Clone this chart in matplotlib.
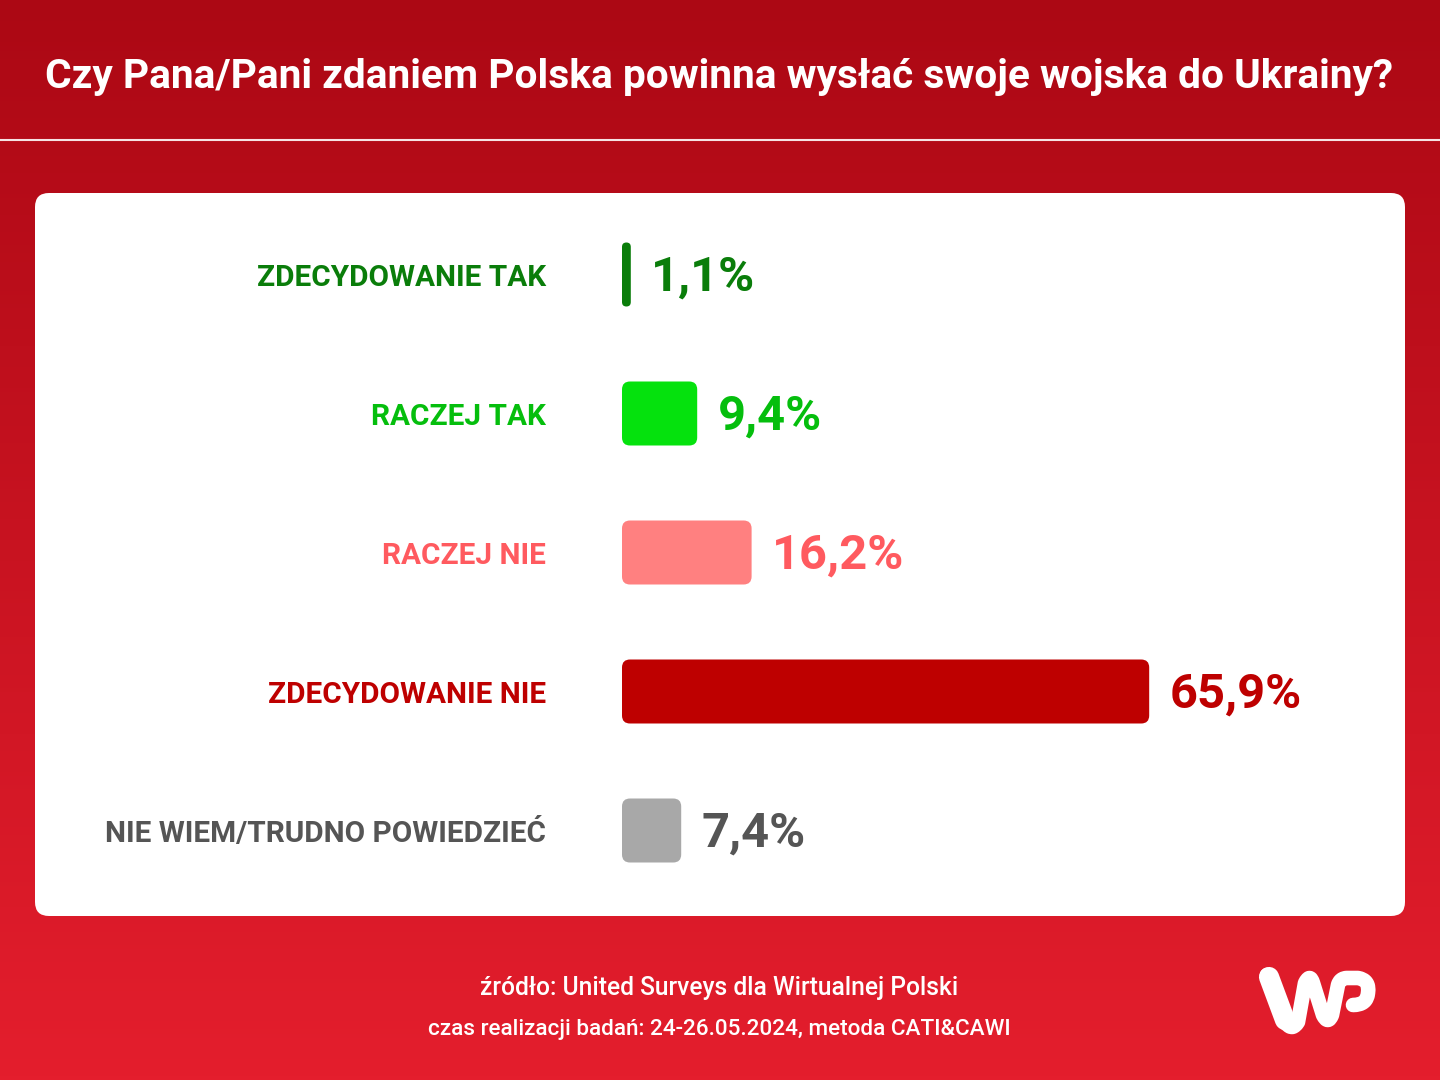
import numpy as np
import matplotlib

matplotlib.use("Agg")
import matplotlib.pyplot as plt
from matplotlib.patches import FancyBboxPatch, PathPatch
from matplotlib.path import Path

plt.rcParams["font.family"] = ["Roboto", "DejaVu Sans"]

W, H = 1440, 1080

title = "Czy Pana/Pani zdaniem Polska powinna wysłać swoje wojska do Ukrainy?"
categories = [
    "ZDECYDOWANIE TAK",
    "RACZEJ TAK",
    "RACZEJ NIE",
    "ZDECYDOWANIE NIE",
    "NIE WIEM/TRUDNO POWIEDZIEĆ",
]
values = [1.1, 9.4, 16.2, 65.9, 7.4]
value_labels = ["1,1%", "9,4%", "16,2%", "65,9%", "7,4%"]
bar_colors = ["#0A7D0A", "#05E20D", "#FF8080", "#BE0000", "#A8A8A8"]
text_colors = ["#0A7D0A", "#05BE0D", "#FF5A5F", "#BE0000", "#555555"]
source_lines = [
    "źródło: United Surveys dla Wirtualnej Polski",
    "czas realizacji badań: 24-26.05.2024, metoda CATI&CAWI",
]

fig = plt.figure(figsize=(W / 100, H / 100), dpi=100)

# page furniture in pixel coordinates
bg = fig.add_axes([0, 0, 1, 1])
bg.set_xlim(0, W)
bg.set_ylim(H, 0)
bg.axis("off")
gradient = np.linspace(0, 1, 256).reshape(-1, 1, 1)
top = np.array([172, 8, 20]) / 255
bottom = np.array([228, 30, 45]) / 255
bg.imshow(top + (bottom - top) * gradient, extent=[0, W, H, 0], aspect="auto", zorder=0)
bg.set_xlim(0, W)
bg.set_ylim(H, 0)

bg.plot([0, W], [139.5, 139.5], color="#F6E3E4", lw=1.5, solid_capstyle="butt", zorder=1)
bg.text(719, 73.5, title, color="white", fontsize=29.25, fontweight="bold",
        ha="center", va="center_baseline", zorder=2)
bg.add_patch(FancyBboxPatch((35, 193), 1370, 723, boxstyle="round,pad=0,rounding_size=14",
                            fc="white", ec="none", zorder=1))
bg.text(719, 986, source_lines[0], color="white", fontsize=17.7, fontweight="medium",
        ha="center", va="center_baseline", zorder=2)
bg.text(719, 1026.5, source_lines[1], color="white", fontsize=16.2, fontweight="medium",
        ha="center", va="center_baseline", zorder=2)

# logo, drawn as one thick stroke plus a heavier left arm
logo_verts = [
    (1267, 975), (1285, 1022), (1292, 1032), (1298, 1022),
    (1305, 983), (1310, 973), (1313, 983),
    (1323, 1015), (1328, 1025), (1332, 1015),
    (1338, 985), (1340, 978), (1347, 978),
    (1358, 978), (1370, 980), (1368, 993), (1367, 1005), (1353, 1005),
]
logo_codes = [
    Path.MOVETO, Path.LINETO, Path.CURVE3, Path.CURVE3,
    Path.LINETO, Path.CURVE3, Path.CURVE3,
    Path.LINETO, Path.CURVE3, Path.CURVE3,
    Path.LINETO, Path.CURVE3, Path.CURVE3,
    Path.LINETO, Path.CURVE3, Path.CURVE3, Path.CURVE3, Path.CURVE3,
]
bg.add_patch(PathPatch(Path(logo_verts, logo_codes), fc="none", ec="white", lw=10.5,
                       capstyle="round", joinstyle="round", zorder=2))
bg.plot([1269, 1285], [977, 1020], color="white", lw=14.5, solid_capstyle="round", zorder=2)

# bars: 8 px per percentage point, 139 px per row
ax = fig.add_axes([622 / W, 1 - 900 / H, 720 / W, 695 / H])
ax.set_xlim(0, 90)
ax.set_ylim(4.5, -0.5)
ax.axis("off")
ax.patch.set_alpha(0)

x_px = 8.0
y_px = 139.0
bar_h = 64 / y_px
for i, (cat, val, label, bc, tc) in enumerate(
    zip(categories, values, value_labels, bar_colors, text_colors)
):
    radius = min(val / 2, 1.0)
    ax.add_patch(FancyBboxPatch(
        (0, i - bar_h / 2), val, bar_h,
        boxstyle=f"round,pad=0,rounding_size={radius}",
        mutation_aspect=x_px / y_px, fc=bc, ec="none",
    ))
    ax.text(val + 2.55, i - 0.014, label, color=tc, fontsize=35.2, fontweight="bold",
            ha="left", va="center_baseline", clip_on=False)
    ax.text(-9.5, i + 0.002, cat, color=tc, fontsize=21.4, fontweight="bold",
            ha="right", va="center_baseline", clip_on=False)

fig.savefig("out.png", dpi=100)
